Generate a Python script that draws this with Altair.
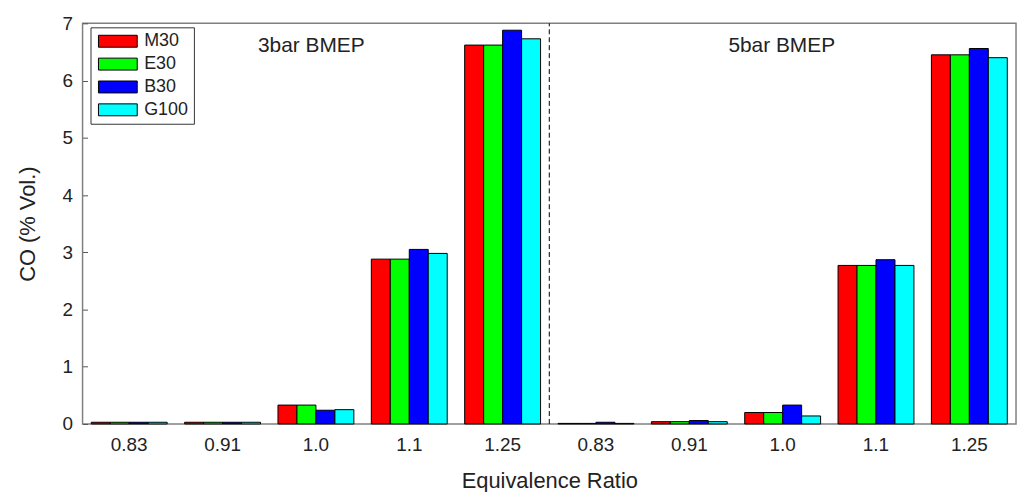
import altair as alt
import pandas as pd

ratios = ["0.83", "0.91", "1.0", "1.1", "1.25"]
loads = ["3bar BMEP", "5bar BMEP"]
fuels = ["M30", "E30", "B30", "G100"]
colors = ["#ff0000", "#00ff00", "#0000ff", "#00ffff"]

co_3bar = {
    "M30": [0.03, 0.03, 0.33, 2.88, 6.62],
    "E30": [0.03, 0.03, 0.33, 2.88, 6.62],
    "B30": [0.03, 0.03, 0.24, 3.05, 6.88],
    "G100": [0.03, 0.03, 0.25, 2.98, 6.73],
}
co_5bar = {
    "M30": [0.01, 0.04, 0.20, 2.77, 6.45],
    "E30": [0.01, 0.04, 0.20, 2.77, 6.45],
    "B30": [0.03, 0.06, 0.33, 2.87, 6.56],
    "G100": [0.01, 0.04, 0.14, 2.77, 6.40],
}
y_ticks = [0, 0.5, 1, 1.5, 2, 2.5, 3, 3.5, 4, 4.5, 5, 5.5, 6, 6.5, 7]

rows = []
for load, table in zip(loads, [co_3bar, co_5bar]):
    for fuel in fuels:
        for r, v in zip(ratios, table[fuel]):
            rows.append({"key": f"{load}|{r}", "load": load, "ratio": r, "fuel": fuel, "co": v})
df = pd.DataFrame(rows)
keys = [f"{l}|{r}" for l in loads for r in ratios]
one = pd.DataFrame({"dummy": [0]})

FONT = "Liberation Sans"
TXT = "#222222"

x_enc = alt.X(
    "key:N",
    scale=alt.Scale(domain=keys, paddingInner=0, paddingOuter=0),
    sort=keys,
    axis=alt.Axis(
        title="Equivalence Ratio",
        labelExpr="split(datum.label, '|')[1]",
        labelAngle=0,
        ticks=False,
        domain=False,
        labelPadding=12,
        labelFontSize=19,
        titleFontSize=22,
        titlePadding=16,
    ),
)
y_scale = alt.Scale(domain=[0, 7], nice=False, zero=True)

bars = alt.Chart(df).mark_bar(stroke="black", strokeWidth=1).encode(
    x=x_enc,
    xOffset=alt.XOffset("fuel:N", sort=fuels,
                        scale=alt.Scale(domain=fuels, paddingOuter=0.46, paddingInner=0)),
    y=alt.Y(
        "co:Q",
        scale=y_scale,
        axis=alt.Axis(
            title="CO (% Vol.)",
            values=y_ticks,
            labelExpr="datum.value % 1 == 0 ? format(datum.value, 'd') : ''",
            grid=False,
            domain=False,
            offset=-5,
            tickSize=5,
            tickColor="#555555",
            labelPadding=10,
            labelFontSize=19,
            titleFontSize=22,
            titlePadding=23,
        ),
    ),
    color=alt.Color(
        "fuel:N",
        sort=fuels,
        scale=alt.Scale(domain=fuels, range=colors),
        legend=alt.Legend(
            title=None,
            orient="none",
            legendX=8,
            legendY=4,
            symbolType="M-1,-1H5.5V1H-1Z",
            symbolSize=144,
            symbolStrokeColor="black",
            symbolStrokeWidth=1,
            symbolOpacity=1,
            labelFontSize=18,
            labelOffset=31,
            padding=5,
            rowPadding=5,
            strokeColor="#333333",
            fillColor="white",
        ),
    ),
)

divider = alt.Chart(one).mark_rule(color="black", strokeWidth=1, strokeDash=[5, 3]).encode(
    x=alt.X(datum="3bar BMEP|1.25", type="nominal", bandPosition=1),
    y=alt.Y(datum=0, type="quantitative"),
    y2=alt.Y2(datum=7),
)

label3 = alt.Chart(one).mark_text(fontSize=21, color=TXT, font=FONT).encode(
    x=alt.X(datum="3bar BMEP|1.0", type="nominal", bandPosition=0.45),
    y=alt.Y(datum=6.6, type="quantitative"),
    text=alt.value("3bar BMEP"),
)
label5 = alt.Chart(one).mark_text(fontSize=21, color=TXT, font=FONT).encode(
    x=alt.X(datum="5bar BMEP|1.0", type="nominal", bandPosition=0.49),
    y=alt.Y(datum=6.6, type="quantitative"),
    text=alt.value("5bar BMEP"),
)

chart = (
    alt.layer(bars, divider, label3, label5)
    .properties(
        width=939,
        height=403,
        autosize=alt.AutoSizeParams(type="none"),
        padding={"left": 75, "top": 14, "right": 3, "bottom": 67},
    )
    .configure(font=FONT)
    .configure_view(stroke="#808080", strokeWidth=1.5)
    .configure_axis(labelColor=TXT, titleColor=TXT, titleFontWeight="normal", labelFont=FONT, titleFont=FONT)
    .configure_legend(labelColor=TXT, labelFont=FONT)
)

chart.save("out.html", embed_options={"renderer": "svg", "actions": False})
